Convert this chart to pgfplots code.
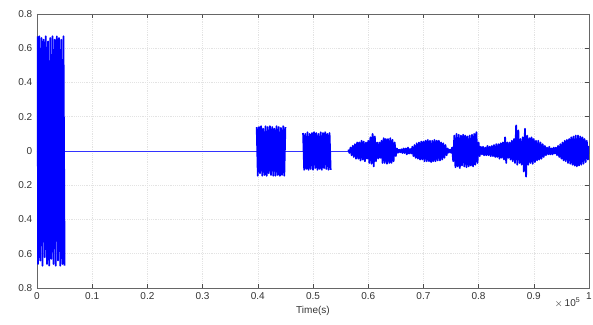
\documentclass[border=0pt]{standalone}
\usepackage{fontspec}
\setmainfont{Liberation Sans}
\usepackage{pgfplots}
\pgfplotsset{compat=1.18}
\definecolor{sigblue}{RGB}{0,0,255}
\begin{document}
\begin{tikzpicture}
\begin{axis}[
  scale only axis,
  width=414pt, height=205.5pt,
  xmin=0, xmax=1, ymin=-0.8, ymax=0.8,
  clip mode=individual,
  xtick={0,0.1,0.2,0.3,0.4,0.5,0.6,0.7,0.8,0.9,1},
  xticklabels={0,0.1,0.2,0.3,0.4,0.5,0.6,0.7,0.8,0.9,1},
  ytick={-0.8,-0.6,-0.4,-0.2,0,0.2,0.4,0.6,0.8},
  yticklabels={0.8,0.6,0.4,0.2,0,0.2,0.4,0.6,0.8},
  tick align=inside,
  major tick length=3pt,
  tick style={black!70, line width=0.4pt},
  axis line style={black!60, line width=0.4pt},
  grid=major,
  major grid style={gray!22, densely dotted, line width=0.4pt},
  tick label style={font=\fontsize{7.5}{9}\selectfont, text=black!80},
  /pgf/number format/assume math mode=true,
  xlabel={Time(s)},
  xlabel style={at={(axis description cs:0.5,0)}, anchor=north, yshift=-10pt, font=\fontsize{7.5}{9}\selectfont, text=black!80},
]
\addplot[sigblue!80, line width=0.7pt] coordinates {(0,0)(1,0)};
\addplot[sigblue, line join=round, line width=1.3pt] coordinates {
(0.001,0.67)(0.002,-0.66)(0.004,0.67)(0.006,-0.64)(0.008,0.66)(0.010,-0.67)(0.012,0.65)(0.014,-0.62)(0.016,0.67)(0.018,-0.66)(0.020,0.64)(0.022,-0.67)(0.024,0.66)(0.026,-0.63)(0.028,0.67)(0.030,-0.66)(0.032,0.65)(0.034,-0.67)(0.036,0.67)(0.038,-0.64)(0.040,0.66)(0.042,-0.67)(0.044,0.65)(0.046,-0.66)(0.048,0.67)(0.050,-0.67)
};
\addplot[sigblue, line join=round, line width=1.3pt] coordinates {
(0.398,0.14)(0.400,-0.145)(0.402,0.14)(0.404,-0.13)(0.406,0.145)(0.408,-0.145)(0.410,0.13)(0.412,-0.14)(0.414,0.145)(0.416,-0.145)(0.418,0.14)(0.420,-0.13)(0.422,0.145)(0.424,-0.14)(0.426,0.14)(0.428,-0.145)(0.430,0.13)(0.432,-0.145)(0.434,0.145)(0.436,-0.14)(0.438,0.14)(0.440,-0.145)(0.442,0.135)(0.444,-0.14)(0.446,0.145)(0.448,-0.145)(0.450,0.14)
};
\addplot[sigblue, line join=round, line width=1.3pt] coordinates {
(0.482,0.105)(0.484,-0.11)(0.486,0.10)(0.488,-0.105)(0.490,0.11)(0.492,-0.11)(0.494,0.10)(0.496,-0.105)(0.498,0.105)(0.500,-0.11)(0.502,0.11)(0.504,-0.10)(0.506,0.105)(0.508,-0.11)(0.510,0.10)(0.512,-0.105)(0.514,0.11)(0.516,-0.11)(0.518,0.105)(0.520,-0.10)(0.522,0.11)(0.524,-0.105)(0.526,0.10)(0.528,-0.11)(0.530,0.105)(0.532,-0.11)
};
\addplot[sigblue, line join=round, line width=1.3pt] coordinates {
(0.564,0.008)(0.566,-0.012)(0.568,0.02)(0.570,-0.025)(0.572,0.03)(0.574,-0.035)(0.576,0.04)(0.578,-0.045)(0.580,0.05)(0.582,-0.045)(0.584,0.05)(0.586,-0.055)(0.588,0.06)(0.590,-0.05)(0.592,0.055)(0.594,-0.06)(0.596,0.05)(0.598,-0.045)(0.600,0.06)(0.602,-0.07)(0.604,0.08)(0.606,-0.075)(0.608,0.10)(0.610,-0.09)(0.612,0.085)(0.614,-0.06)(0.616,0.05)(0.618,-0.045)(0.620,0.05)(0.622,-0.04)(0.624,0.06)(0.626,-0.07)(0.628,0.075)(0.630,-0.07)(0.632,0.07)(0.634,-0.075)(0.636,0.07)(0.638,-0.07)(0.640,0.075)(0.642,-0.07)(0.644,0.065)(0.646,-0.06)(0.648,0.05)(0.650,-0.03)(0.652,0.015)(0.654,-0.01)(0.656,0.008)(0.658,-0.008)(0.660,0.01)(0.662,-0.012)(0.664,0.015)(0.666,-0.012)(0.668,0.015)(0.670,-0.02)(0.672,0.02)(0.674,-0.015)(0.676,0.012)(0.678,-0.015)(0.680,0.025)(0.682,-0.03)(0.684,0.035)(0.686,-0.04)(0.688,0.045)(0.690,-0.045)(0.692,0.05)(0.694,-0.05)(0.696,0.055)(0.698,-0.05)(0.700,0.055)(0.702,-0.06)(0.704,0.06)(0.706,-0.06)(0.708,0.065)(0.710,-0.06)(0.712,0.06)(0.714,-0.065)(0.716,0.06)(0.718,-0.06)(0.720,0.065)(0.722,-0.06)(0.724,0.06)(0.726,-0.055)(0.728,0.06)(0.730,-0.055)(0.732,0.05)(0.734,-0.05)(0.736,0.045)(0.738,-0.04)(0.740,0.035)(0.742,-0.025)(0.744,0.015)(0.746,-0.01)(0.748,0.008)(0.750,-0.01)(0.752,0.02)(0.754,-0.06)(0.756,0.09)(0.758,-0.095)(0.760,0.10)(0.762,-0.09)(0.764,0.095)(0.766,-0.10)(0.768,0.09)(0.770,-0.085)(0.772,0.095)(0.774,-0.09)(0.776,0.09)(0.778,-0.095)(0.780,0.085)(0.782,-0.09)(0.784,0.09)(0.786,-0.085)(0.788,0.095)(0.790,-0.09)(0.792,0.10)(0.794,-0.08)(0.796,0.11)(0.798,-0.07)(0.800,0.05)(0.802,-0.03)(0.804,0.025)(0.806,-0.02)(0.808,0.025)(0.810,-0.025)(0.812,0.02)(0.814,-0.025)(0.816,0.03)(0.818,-0.025)(0.820,0.025)(0.822,-0.03)(0.824,0.03)(0.826,-0.03)(0.828,0.035)(0.830,-0.035)(0.832,0.04)(0.834,-0.035)(0.836,0.04)(0.838,-0.045)(0.840,0.045)(0.842,-0.04)(0.844,0.05)(0.846,-0.05)(0.848,0.08)(0.850,-0.07)(0.852,0.05)(0.854,-0.04)(0.856,0.05)(0.858,-0.05)(0.860,0.06)(0.862,-0.06)(0.864,0.07)(0.866,-0.07)(0.868,0.15)(0.870,-0.08)(0.872,0.12)(0.874,-0.07)(0.876,0.07)(0.878,-0.08)(0.880,0.08)(0.882,-0.12)(0.884,0.13)(0.886,-0.15)(0.888,0.09)(0.890,-0.08)(0.892,0.075)(0.894,-0.07)(0.896,0.08)(0.898,-0.075)(0.900,0.07)(0.902,-0.065)(0.904,0.06)(0.906,-0.055)(0.908,0.06)(0.910,-0.05)(0.912,0.05)(0.914,-0.045)(0.916,0.04)(0.918,-0.035)(0.920,0.03)(0.922,-0.025)(0.924,0.02)(0.926,-0.02)(0.928,0.025)(0.930,-0.02)(0.932,0.015)(0.934,-0.02)(0.936,0.02)(0.938,-0.015)(0.940,0.02)(0.942,-0.025)(0.944,0.03)(0.946,-0.035)(0.948,0.04)(0.950,-0.045)(0.952,0.05)(0.954,-0.055)(0.956,0.06)(0.958,-0.06)(0.960,0.065)(0.962,-0.07)(0.964,0.07)(0.966,-0.075)(0.968,0.08)(0.970,-0.08)(0.972,0.085)(0.974,-0.085)(0.976,0.09)(0.978,-0.09)(0.980,0.09)(0.982,-0.085)(0.984,0.085)(0.986,-0.08)(0.988,0.08)(0.990,-0.075)(0.992,0.07)(0.994,-0.065)(0.996,0.06)(0.998,-0.05)(0.999,0.03)
};
\node[anchor=east, font=\fontsize{7.5}{9}\selectfont, text=black!80] at (axis description cs:0.993,-0.055) {$\times$\,10\textsuperscript{5}};
\end{axis}
\path (current axis.south west) ++(-27.75pt,-27.75pt) coordinate (bbA);
\path (current axis.north east) ++(3pt,10.5pt) coordinate (bbB);
\pgfresetboundingbox
\useasboundingbox (bbA) rectangle (bbB);
\end{tikzpicture}
\end{document}
